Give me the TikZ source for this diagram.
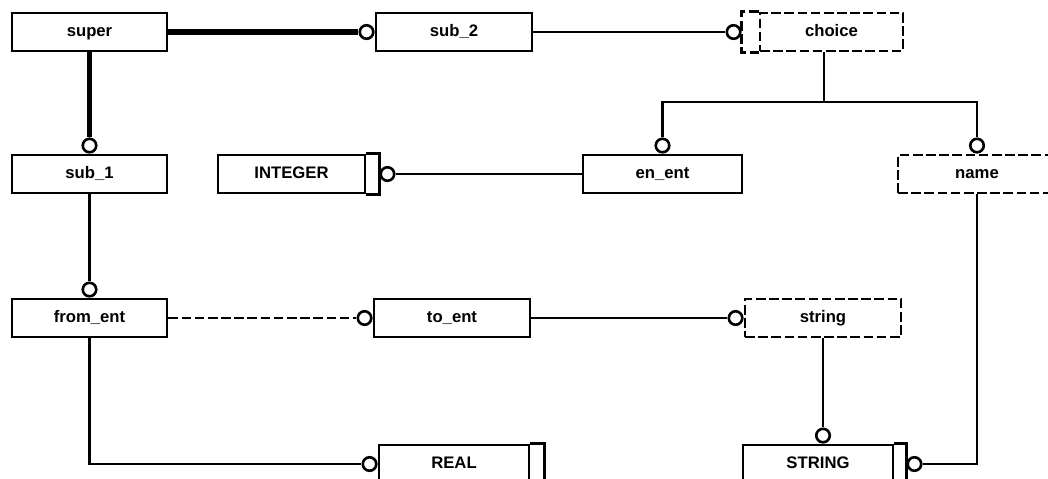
\documentclass[tikz,border=0pt]{standalone}
\usepackage{fontspec}
\setmainfont{Liberation Sans}
\usetikzlibrary{positioning}

\begin{document}
\begin{tikzpicture}[x=0.02cm, y=-0.02cm,
  ent/.style={draw, line width=1.6pt, minimum height=0.76cm, inner sep=0pt,
    text height=0.72em, text depth=0.2em, font=\fontsize{9.5}{11}\selectfont\bfseries},
  sel/.style={ent, dash pattern=on 5.5pt off 2pt},
  ring/.style={circle, draw, fill=white, line width=1.5pt, inner sep=0pt, minimum size=0.27cm},
  rel/.style={line width=1.25pt},
  sup/.style={line width=3.2pt}]
  \useasboundingbox (0,0) rectangle (1048,478);
  \clip (0,0) rectangle (1048,478);

  % Entities and types
  \node[ent, minimum width=3.1cm] (super) at (89.5,32) {super};
  \node[ent, minimum width=3.12cm] (sub2) at (454,32) {sub\_2};
  \node[sel, minimum width=2.86cm] (choice) at (831.5,32) {choice};
  \node[ent, minimum width=3.1cm] (sub1) at (89.5,174) {sub\_1};
  \node[ent, minimum width=2.94cm] (int) at (291.5,174) {INTEGER};
  \node[ent, minimum width=3.18cm] (enent) at (662.5,174) {en\_ent};
  \node[sel, minimum width=3.16cm] (name) at (977,174) {name};
  \node[ent, minimum width=3.1cm] (fromen) at (89.5,318) {from\_ent};
  \node[ent, minimum width=3.12cm] (toent) at (452,318) {to\_ent};
  \node[sel, minimum width=3.12cm] (string) at (823,318) {string};
  \node[ent, minimum width=3.0cm] (real) at (454,464) {REAL};
  \node[ent, minimum width=3.0cm] (STRING) at (818,464) {STRING};

  % Side strips of simple and select types
  \draw[line width=1.6pt] (int.north east) -- ++(13,0) |- (int.south east);
  \draw[line width=1.6pt] (real.north east) -- ++(14,0) |- (real.south east);
  \draw[line width=1.6pt] (STRING.north east) -- ++(12,0) |- (STRING.south east);
  \draw[line width=1.6pt, dash pattern=on 5.5pt off 2pt]
    (choice.north west) -- ++(-17,0) |- (choice.south west);
  \path (int.east) ++(13,0) coordinate (int-e);
  \path (STRING.east) ++(12,0) coordinate (STR-e);
  \path (choice.west) ++(-17,0) coordinate (choice-w);
  \coordinate (fork) at (824,102);

  % Rings
  \node[ring, left=0pt of sub2] (sub2-in) {};
  \node[ring, anchor=east] (choice-in) at (choice-w) {};
  \node[ring, above=0pt of sub1] (sub1-in) {};
  \node[ring, anchor=west] (int-out) at (int-e) {};
  \node[ring, above=0pt of enent] (enent-in) {};
  \node[ring, above=0pt of name] (name-in) {};
  \node[ring, above=0pt of fromen] (from-in) {};
  \node[ring, left=0pt of toent] (to-in) {};
  \node[ring, left=0pt of string] (string-in) {};
  \node[ring, left=0pt of real] (real-in) {};
  \node[ring, anchor=south] (STR-in) at (string.south |- STRING.north) {};
  \node[ring, anchor=west] (STR-out) at (STR-e) {};

  % Subtype lines
  \draw[sup] (super) -- (sub2-in);
  \draw[sup] (super) -- (sub1-in);

  % Relationships
  \draw[rel] (sub2) -- (choice-in);
  \draw[rel] (fork |- choice.south) -- (fork);
  \draw[rel] (enent-in) |- (fork) -| (name-in);
  \draw[rel] (enent) -- (int-out);
  \draw[rel] (sub1) -- (from-in);
  \draw[rel, dash pattern=on 5.5pt off 2pt] (fromen) -- (to-in);
  \draw[rel] (toent) -- (string-in);
  \draw[rel] (fromen) |- (real-in);
  \draw[rel] (string) -- (STR-in);
  \draw[rel] (name) |- (STR-out);
\end{tikzpicture}
\end{document}
